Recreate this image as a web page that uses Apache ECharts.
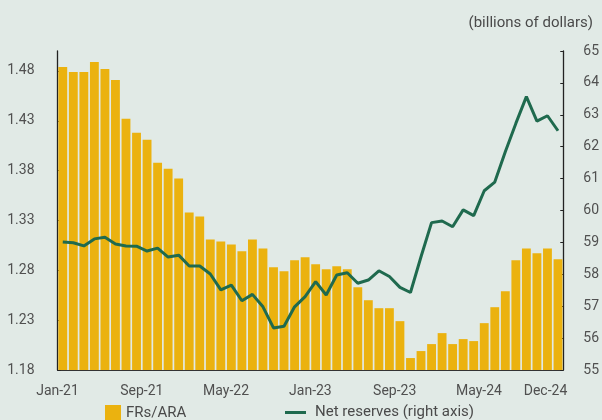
<!DOCTYPE html>
<html>
<head>
<meta charset="utf-8">
<script src="https://cdn.jsdelivr.net/npm/echarts@6/dist/echarts.min.js"></script>
<style>
  html, body { margin: 0; padding: 0; background: #e1eae6; }
  #chart { width: 602px; height: 420px; }
</style>
</head>
<body>
<div id="chart"></div>
<script>
// Monthly data, Jan-21 .. Dec-24
const months = [
  'Jan-21', 'Feb-21', 'Mar-21', 'Apr-21', 'May-21', 'Jun-21', 'Jul-21', 'Aug-21', 'Sep-21', 'Oct-21', 'Nov-21', 'Dec-21',
  'Jan-22', 'Feb-22', 'Mar-22', 'Apr-22', 'May-22', 'Jun-22', 'Jul-22', 'Aug-22', 'Sep-22', 'Oct-22', 'Nov-22', 'Dec-22',
  'Jan-23', 'Feb-23', 'Mar-23', 'Apr-23', 'May-23', 'Jun-23', 'Jul-23', 'Aug-23', 'Sep-23', 'Oct-23', 'Nov-23', 'Dec-23',
  'Jan-24', 'Feb-24', 'Mar-24', 'Apr-24', 'May-24', 'Jun-24', 'Jul-24', 'Aug-24', 'Sep-24', 'Oct-24', 'Nov-24', 'Dec-24'
];

const frsAra = [
  1.484, 1.479, 1.479, 1.489, 1.482, 1.471, 1.432, 1.418, 1.411, 1.388, 1.382, 1.372,
  1.338, 1.334, 1.311, 1.309, 1.306, 1.299, 1.311, 1.302, 1.283, 1.279, 1.290, 1.293,
  1.286, 1.281, 1.284, 1.281, 1.263, 1.250, 1.242, 1.242, 1.229, 1.192, 1.199, 1.206,
  1.217, 1.206, 1.211, 1.209, 1.227, 1.243, 1.259, 1.290, 1.302, 1.297, 1.302, 1.291
];

const netReserves = [
  59.01, 58.99, 58.89, 59.11, 59.16, 58.95, 58.89, 58.88, 58.73, 58.82, 58.54, 58.60,
  58.26, 58.26, 58.01, 57.51, 57.66, 57.17, 57.37, 56.98, 56.32, 56.37, 56.98, 57.30,
  57.77, 57.35, 57.98, 58.05, 57.72, 57.82, 58.11, 57.93, 57.59, 57.43, 58.55, 59.62,
  59.67, 59.49, 60.02, 59.84, 60.62, 60.89, 61.84, 62.73, 63.57, 62.80, 62.97, 62.50
];

const leftTicks = [1.18, 1.23, 1.28, 1.33, 1.38, 1.43, 1.48];
const shownMonths = ['Jan-21', 'Sep-21', 'May-22', 'Jan-23', 'Sep-23', 'May-24', 'Dec-24'];

const FONT = 'Roboto';
const LABEL = '#505050';
const AXIS = '#222222';
const GREEN = '#1f6a4e';

const chart = echarts.init(document.getElementById('chart'));
chart.setOption({
  backgroundColor: '#e1eae6',
  animation: false,
  textStyle: { fontFamily: FONT },
  title: {
    text: '(billions of dollars)',
    right: 4,
    top: 11,
    textStyle: { fontSize: 15, fontWeight: 'normal', color: '#4a4a4a', fontFamily: FONT }
  },
  grid: { left: 57.5, right: 38, top: 51, bottom: 50 },
  legend: [
    {
      data: ['FRs/ARA'],
      left: 105,
      top: 405,
      padding: 0,
      itemWidth: 16,
      itemHeight: 16,
      icon: 'rect',
      textStyle: { fontSize: 15, color: '#4a4a4a', fontFamily: FONT }
    },
    {
      data: [{ name: 'Net reserves (right axis)', icon: 'rect' }],
      left: 285,
      top: 405,
      padding: 0,
      itemWidth: 21,
      itemHeight: 3,
      textStyle: { fontSize: 15, color: '#4a4a4a', fontFamily: FONT, padding: [0, 0, 0, 4] }
    }
  ],
  xAxis: {
    type: 'category',
    data: months,
    boundaryGap: true,
    axisLine: { lineStyle: { color: '#333', width: 1 } },
    axisTick: {
      inside: true,
      length: 4,
      interval: (i) => i % 4 === 0,
      lineStyle: { color: '#333' }
    },
    axisLabel: {
      interval: (i, v) => shownMonths.includes(v),
      margin: 14,
      fontSize: 14,
      color: LABEL,
      fontFamily: FONT,
      formatter: (v) => (v === 'Dec-24' ? '{e|' + v + '}' : '{b|' + v + '}'),
      rich: {
        b: { padding: [0, 10.5, 0, 0], fontSize: 14, color: LABEL, fontFamily: FONT },
        e: { padding: [0, 25, 0, 0], fontSize: 14, color: LABEL, fontFamily: FONT }
      }
    },
    splitLine: { show: false }
  },
  yAxis: [
    {
      type: 'value',
      position: 'left',
      min: 1.18,
      max: 1.5,
      axisLine: { show: true, lineStyle: { color: AXIS, width: 1.3 } },
      axisTick: { show: true, inside: true, length: 3, customValues: leftTicks, lineStyle: { color: AXIS } },
      axisLabel: {
        customValues: leftTicks,
        margin: 23,
        fontSize: 14,
        color: LABEL,
        fontFamily: FONT,
        formatter: (v) => v.toFixed(2)
      },
      splitLine: { show: false }
    },
    {
      type: 'value',
      position: 'right',
      min: 55,
      max: 65,
      interval: 1,
      axisLine: { show: true, lineStyle: { color: AXIS, width: 1.3 } },
      axisTick: { show: true, inside: true, length: 3, lineStyle: { color: AXIS } },
      axisLabel: { margin: 20, fontSize: 14, color: LABEL, fontFamily: FONT },
      splitLine: { show: false }
    }
  ],
  series: [
    {
      name: 'FRs/ARA',
      type: 'bar',
      yAxisIndex: 0,
      data: frsAra,
      barCategoryGap: '16%',
      itemStyle: { color: '#ebb20f' }
    },
    {
      name: 'Net reserves (right axis)',
      type: 'line',
      yAxisIndex: 1,
      data: netReserves,
      symbol: 'none',
      lineStyle: { width: 3, color: GREEN },
      itemStyle: { color: GREEN },
      z: 5
    }
  ]
});
</script>
</body>
</html>
